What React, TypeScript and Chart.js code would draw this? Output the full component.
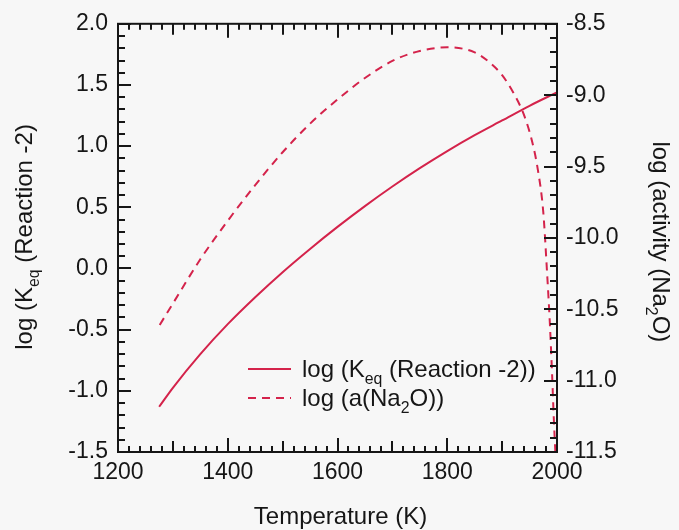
import React, { useEffect, useRef } from 'react';
import { Chart, registerables } from 'chart.js';

Chart.register(...registerables);

// ---- data ----
const tempKeq = [1275, 1300, 1350, 1400, 1450, 1500, 1550, 1600, 1650, 1700, 1750, 1800, 1850, 1900, 1950, 2000];
const logKeq = [-1.13, -0.975, -0.70, -0.455, -0.235, -0.03, 0.16, 0.34, 0.51, 0.67, 0.82, 0.96, 1.09, 1.21, 1.33, 1.44];

const tempNa2O = [1276, 1300, 1350, 1400, 1450, 1500, 1550, 1600, 1650, 1700, 1750, 1800, 1850, 1880, 1900, 1920, 1940, 1955, 1965, 1975, 1982, 1987, 1991, 1994, 1997];
const logActNa2O = [-10.61, -10.46, -10.15, -9.88, -9.63, -9.40, -9.20, -9.03, -8.88, -8.76, -8.69, -8.665, -8.70, -8.78, -8.86, -8.98, -9.14, -9.33, -9.52, -9.82, -10.25, -10.60, -10.95, -11.25, -11.5];

const xMin = 1200, xMax = 2000, xStep = 200, xMinor = 20, xMid = 100;
const yMin = -1.5, yMax = 2.0, yStep = 0.5, yMinor = 0.1;
const y2Min = -11.5, y2Max = -8.5, y2Step = 0.5, y2Minor = 0.1;

const xTitle = 'Temperature (K)';
const yTitle = [{ t: 'log (K' }, { t: 'eq', sub: true }, { t: ' (Reaction -2)' }];
const y2Title = [{ t: 'log (activity (Na' }, { t: '2', sub: true }, { t: 'O)' }];
const legendKeq = [{ t: 'log (K' }, { t: 'eq', sub: true }, { t: ' (Reaction -2))' }];
const legendNa2O = [{ t: 'log (a(Na' }, { t: '2', sub: true }, { t: 'O))' }];

const RED = '#d4234b';
const INK = '#161616';
const FONT = '"Liberation Sans", Arial, Helvetica, sans-serif';

type Part = { t: string; sub?: boolean };

function richWidth(ctx: CanvasRenderingContext2D, parts: Part[], size: number) {
  let w = 0;
  for (const p of parts) {
    ctx.font = `${p.sub ? size * 0.66 : size}px ${FONT}`;
    w += ctx.measureText(p.t).width;
  }
  return w;
}

function drawRich(ctx: CanvasRenderingContext2D, parts: Part[], x: number, y: number, size: number, align: 'left' | 'center') {
  let cx = align === 'center' ? x - richWidth(ctx, parts, size) / 2 : x;
  ctx.textBaseline = 'alphabetic';
  ctx.textAlign = 'left';
  for (const p of parts) {
    const s = p.sub ? size * 0.66 : size;
    ctx.font = `${s}px ${FONT}`;
    ctx.fillText(p.t, cx, y + (p.sub ? size * 0.28 : 0));
    cx += ctx.measureText(p.t).width;
  }
}

const decoPlugin = {
  id: 'deco',
  beforeDraw(chart: any) {
    const ctx = chart.ctx as CanvasRenderingContext2D;
    ctx.save();
    ctx.fillStyle = '#f7f7f7';
    ctx.fillRect(0, 0, chart.width, chart.height);
    ctx.restore();
  },
  afterDraw(chart: any) {
    const ctx = chart.ctx as CanvasRenderingContext2D;
    const { left, right, top, bottom } = chart.chartArea;
    const { x, y, y2 } = chart.scales;
    ctx.save();
    ctx.strokeStyle = INK;
    ctx.lineWidth = 2;
    ctx.lineCap = 'butt';
    ctx.strokeRect(left, top, right - left, bottom - top);

    // inward x ticks (bottom and top)
    const nx = Math.round((xMax - xMin) / xMinor);
    ctx.beginPath();
    for (let i = 0; i <= nx; i++) {
      const t = xMin + i * xMinor;
      const px = Math.round(x.getPixelForValue(t));
      const len = t % xStep === 0 ? 14 : t % xMid === 0 ? 11 : 6;
      ctx.moveTo(px, bottom);
      ctx.lineTo(px, bottom - len);
      ctx.moveTo(px, top);
      ctx.lineTo(px, top + len);
    }
    // left ticks
    const ny = Math.round((yMax - yMin) / yMinor);
    for (let i = 0; i <= ny; i++) {
      const v = yMin + i * yMinor;
      const py = Math.round(y.getPixelForValue(v));
      const major = i % Math.round(yStep / yMinor) === 0;
      ctx.moveTo(left, py);
      ctx.lineTo(left + (major ? 13 : 7), py);
    }
    // right ticks
    const ny2 = Math.round((y2Max - y2Min) / y2Minor);
    for (let i = 0; i <= ny2; i++) {
      const v = y2Min + i * y2Minor;
      const py = Math.round(y2.getPixelForValue(v));
      const major = i % Math.round(y2Step / y2Minor) === 0;
      ctx.moveTo(right, py);
      ctx.lineTo(right - (major ? 13 : 7), py);
    }
    ctx.stroke();

    // axis titles
    ctx.fillStyle = INK;
    const ts = 24;
    ctx.font = `${ts}px ${FONT}`;
    ctx.textAlign = 'center';
    ctx.textBaseline = 'alphabetic';
    ctx.fillText(xTitle, (left + right) / 2 + 3, 524);

    ctx.save();
    ctx.translate(32, (top + bottom) / 2 - 1);
    ctx.rotate(-Math.PI / 2);
    drawRich(ctx, yTitle, 0, 0, ts, 'center');
    ctx.restore();

    ctx.save();
    ctx.translate(653, (top + bottom) / 2 + 4);
    ctx.rotate(Math.PI / 2);
    drawRich(ctx, y2Title, 0, 0, ts, 'center');
    ctx.restore();

    // legend
    ctx.strokeStyle = RED;
    ctx.lineWidth = 2;
    ctx.beginPath();
    ctx.moveTo(248, 369);
    ctx.lineTo(291, 369);
    ctx.stroke();
    ctx.setLineDash([8, 6]);
    ctx.beginPath();
    ctx.moveTo(248, 398);
    ctx.lineTo(291, 398);
    ctx.stroke();
    ctx.setLineDash([]);
    ctx.fillStyle = INK;
    drawRich(ctx, legendKeq, 302, 377, ts, 'left');
    drawRich(ctx, legendNa2O, 302, 406, ts, 'left');
    ctx.restore();
  },
};

export default function App() {
  const ref = useRef<HTMLCanvasElement | null>(null);
  useEffect(() => {
    if (!ref.current) return;
    const tickFont = { family: FONT, size: 23 };
    const chart = new Chart(ref.current, {
      type: 'line',
      data: {
        datasets: [
          {
            label: 'log (Keq (Reaction -2))',
            data: tempKeq.map((t, i) => ({ x: t, y: logKeq[i] })),
            borderColor: RED,
            backgroundColor: RED,
            borderWidth: 2,
            pointRadius: 0,
            cubicInterpolationMode: 'monotone',
            yAxisID: 'y',
          },
          {
            label: 'log (a(Na2O))',
            data: tempNa2O.map((t, i) => ({ x: t, y: logActNa2O[i] })),
            borderColor: RED,
            backgroundColor: RED,
            borderWidth: 2,
            borderDash: [8, 6],
            pointRadius: 0,
            cubicInterpolationMode: 'monotone',
            yAxisID: 'y2',
          },
        ],
      },
      options: {
        animation: false,
        responsive: false,
        devicePixelRatio: 1,
        layout: { padding: { top: 20, left: 0, right: 0, bottom: 0 } },
        plugins: { legend: { display: false }, tooltip: { enabled: false } },
        scales: {
          x: {
            type: 'linear',
            min: xMin,
            max: xMax,
            grid: { display: false, drawTicks: false },
            border: { display: false },
            ticks: {
              stepSize: xStep,
              padding: 7,
              color: INK,
              font: tickFont,
              callback: (v: any) => String(v),
              maxRotation: 0,
            },
            afterFit: (s: any) => { s.height = 78; },
          },
          y: {
            type: 'linear',
            position: 'left',
            min: yMin,
            max: yMax,
            grid: { display: false, drawTicks: false },
            border: { display: false },
            ticks: {
              stepSize: yStep,
              padding: 10,
              color: INK,
              font: tickFont,
              callback: (v: any) => Number(v).toFixed(1),
            },
            afterFit: (s: any) => { s.width = 118; },
          },
          y2: {
            type: 'linear',
            position: 'right',
            min: y2Min,
            max: y2Max,
            grid: { display: false, drawTicks: false },
            border: { display: false },
            ticks: {
              stepSize: y2Step,
              padding: 9,
              color: INK,
              font: tickFont,
              callback: (v: any) => Number(v).toFixed(1),
            },
            afterFit: (s: any) => { s.width = 122; },
          },
        },
      },
      plugins: [decoPlugin],
    } as any);
    return () => chart.destroy();
  }, []);
  return (
    <div style={{ position: 'fixed', left: 0, top: 0, width: 679, height: 530, background: '#f7f7f7' }}>
      <canvas ref={ref} width={679} height={530} style={{ display: 'block' }} />
    </div>
  );
}
